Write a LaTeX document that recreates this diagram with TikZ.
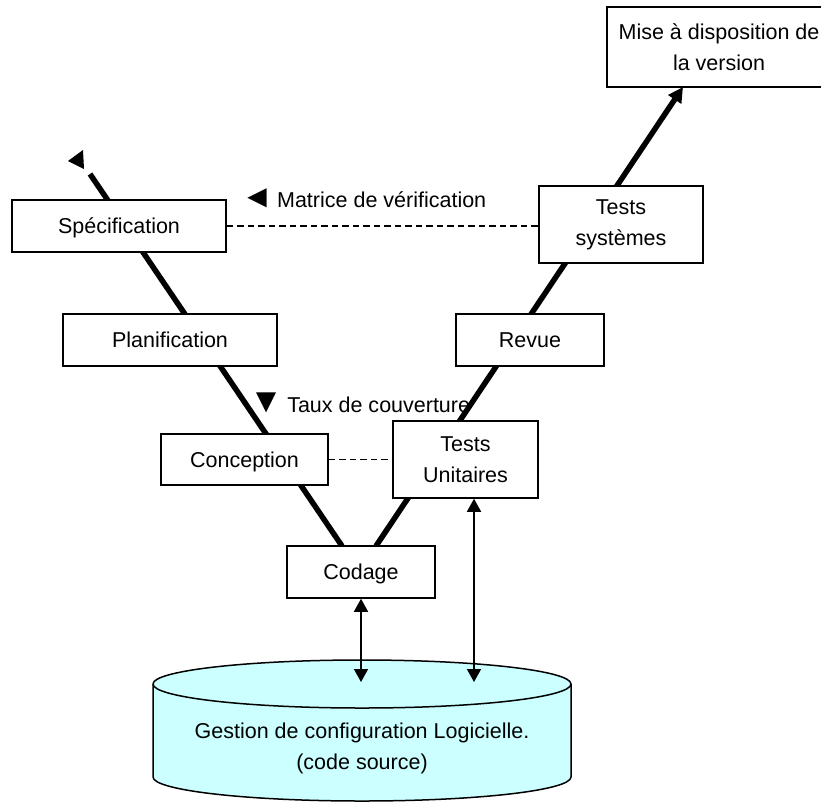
\documentclass[tikz,border=0pt]{standalone}
\usepackage{fontspec}
\usepackage{graphicx}
\setmainfont{Liberation Sans}
\usetikzlibrary{arrows.meta}
\definecolor{cylfill}{HTML}{CCFFFF}
\begin{document}
\begin{tikzpicture}[x=1pt,y=-1pt,
  lbl/.style={font=\fontsize{21.5}{31}\selectfont},
  stage/.style={draw, line width=1.5pt, fill=white, inner sep=0pt, lbl},
  onel/.style={stage, text height=15.5pt, text depth=0pt},
  twol/.style={stage, align=center},
  vline/.style={line width=5.5pt},
  dashline/.style={line width=1.4pt, dash pattern=on 6.5pt off 4pt},
  link/.style={line width=1.5pt, {Triangle[length=13pt,width=14pt]}-{Triangle[length=13pt,width=14pt]}},
  note/.style={lbl, inner sep=0pt, anchor=base west}
]
\useasboundingbox (0,0) rectangle (821,801);
\clip (0,0) rectangle (821,801);

% repository cylinder
\filldraw[fill=cylfill, line width=1.5pt]
  (153,684) -- (153,777) arc[start angle=180, end angle=0, x radius=209, y radius=24]
  -- (571,684) arc[start angle=0, end angle=-180, x radius=209, y radius=24] -- cycle;
\draw[line width=1.5pt] (153,684) arc[start angle=180, end angle=0, x radius=209, y radius=24];
\node[lbl, align=center] (gcl) at (362,748.4) {Gestion de configuration Logicielle.\\(code source)};

% V-cycle thick lines
\coordinate (vl) at (342,546);
\coordinate (vr) at (376,546);
\coordinate (lt) at (90,174);
\coordinate (mt) at (683,87);
\draw[vline] (vl) -- (lt);
\fill (68,161) -- (83,150) -- (84,169) -- cycle;
\draw[vline, -{Triangle[length=15pt,width=15pt]}] (vr) -- (mt);

% stages
\node[onel, minimum width=214pt, minimum height=52pt] (spec)   at (119,226)   {Spécification};
\node[onel, minimum width=214pt, minimum height=52pt] (planif) at (170,340)   {Planification};
\node[onel, minimum width=167pt, minimum height=51pt] (concep) at (244.5,459.5) {Conception};
\node[onel, minimum width=148pt, minimum height=52pt] (codage) at (361,572)   {Codage};
\node[twol, minimum width=145pt, minimum height=77pt] (tu)     at (465.5,459.5) {Tests\\Unitaires};
\node[onel, minimum width=148pt, minimum height=52pt] (revue)  at (530,340)   {Revue};
\node[twol, minimum width=164pt, minimum height=77pt] (ts)     at (621,224.5) {Tests\\systèmes};
\node[twol, minimum width=224pt, minimum height=80pt] (mise)   at (719,47)    {Mise à disposition de\\la version};

% verification links
\draw[dashline] (spec.east) -- (spec.east -| ts.west);
\draw[dashline] (concep.east) -- (concep.east -| tu.west);
\node[note] (matrice) at (241,207) {\scalebox{1.5}{◄}\hspace{4pt}Matrice de vérification};
\node[note] (taux) at (249,412) {\scalebox{1.6}{▼}\hspace{4pt}Taux de couverture};

% links to repository
\coordinate (db1) at (362,682);
\draw[link] (codage.south) -- (codage.south |- db1);
\draw[link] ([xshift=8.5pt]tu.south) -- ([xshift=8.5pt]tu.south |- db1);
\end{tikzpicture}
\end{document}
